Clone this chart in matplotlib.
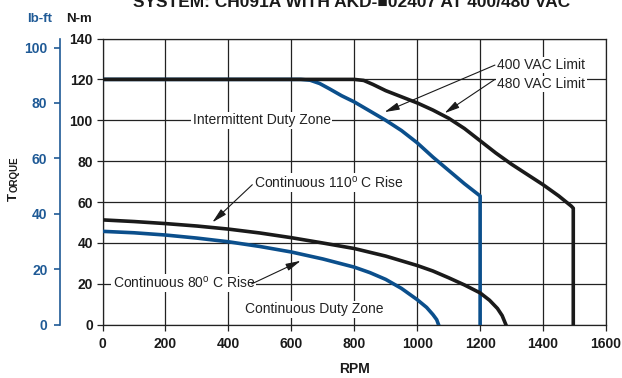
import matplotlib
matplotlib.use("Agg")
import matplotlib.pyplot as plt

FONT = ['Liberation Sans', 'DejaVu Sans']
plt.rcParams['font.family'] = FONT

BLUE = '#0b4f8c'
LBLUE = '#1f5a96'
BLACK = '#1a1a1a'

# ---- data (RPM, N-m) ----
lim400_rpm = [0, 630, 660, 690, 720, 760, 800, 850, 900, 950, 1000, 1050, 1100, 1150, 1200, 1200]
lim400_nm = [120, 120, 119.6, 118, 115.5, 112, 109, 104.5, 100, 95, 89, 82, 75.5, 69, 63, 0]

lim480_rpm = [0, 800, 830, 860, 900, 950, 1000, 1050, 1100, 1150, 1200, 1250, 1300, 1350,
              1400, 1450, 1490, 1496, 1496]
lim480_nm = [120, 120, 119.5, 117.5, 114.5, 111.5, 108.5, 105, 101, 96, 90, 84, 78.5, 73.5,
             68.5, 63, 58, 57, 0]

c110_rpm = [0, 100, 200, 300, 400, 500, 600, 700, 800, 900, 1000, 1050, 1100, 1150, 1200,
            1230, 1255, 1270, 1282]
c110_nm = [51.3, 50.5, 49.5, 48.3, 46.8, 44.9, 42.6, 40, 37.3, 33.6, 29, 26.3, 23, 19.5, 15.6,
           12, 8, 4.5, 0]

c80_rpm = [0, 100, 200, 300, 400, 500, 600, 700, 800, 850, 900, 950, 1000, 1030, 1050, 1062, 1068]
c80_nm = [45.7, 45, 43.9, 42.4, 40.6, 38.3, 35.6, 32.2, 28.2, 25.5, 22.2, 17.8, 12.3, 8.5, 5,
          2.5, 0]

x_ticks = [0, 200, 400, 600, 800, 1000, 1200, 1400, 1600]
nm_ticks = [0, 20, 40, 60, 80, 100, 120, 140]
lbft_ticks = [0, 20, 40, 60, 80, 100]
NM_PER_LBFT = 1.3558

W, H = 622, 378
AX_L, AX_R, AX_T, AX_B = 102.5, 606, 38.5, 324.8

fig = plt.figure(figsize=(6.22, 3.78), dpi=100)
ax = fig.add_axes([AX_L/W, 1 - AX_B/H, (AX_R - AX_L)/W, (AX_B - AX_T)/H])

ax.set_xlim(0, 1600)
ax.set_ylim(0, 140)
ax.set_xticks(x_ticks)
ax.set_yticks(nm_ticks)
ax.set_axisbelow(True)
ax.grid(True, color='#222222', lw=0.9)
for s in ax.spines.values():
    s.set_color('#222222')
    s.set_linewidth(0.9)
ax.tick_params(direction='out', length=4, width=0.9, color='#222222', pad=3,
               labelsize=10, labelcolor=BLACK)
ax.tick_params(axis='x', pad=5)
for lab in ax.get_xticklabels() + ax.get_yticklabels():
    lab.set_fontweight('bold')

lw = 2.6
ax.plot(lim400_rpm, lim400_nm, color=BLUE, lw=lw, solid_joinstyle='round', zorder=3)
ax.plot(lim480_rpm, lim480_nm, color=BLACK, lw=lw, solid_joinstyle='round', zorder=3)
ax.plot(c110_rpm, c110_nm, color=BLACK, lw=lw, solid_joinstyle='round', zorder=3)
ax.plot(c80_rpm, c80_nm, color=BLUE, lw=lw, solid_joinstyle='round', zorder=3)

# secondary lb-ft axis
sec = ax.secondary_yaxis(-(AX_L - 60)/(AX_R - AX_L),
                         functions=(lambda y: y / NM_PER_LBFT, lambda y: y * NM_PER_LBFT))
sec.set_yticks(lbft_ticks)
sec.spines['left'].set_color(LBLUE)
sec.spines['left'].set_linewidth(1.2)
sec.tick_params(direction='out', length=4, width=1.2, color=LBLUE, pad=5,
                labelsize=10, labelcolor=LBLUE)
for lab in sec.get_yticklabels():
    lab.set_fontweight('bold')

ax.set_xlabel('RPM', fontsize=10, fontweight='bold', color=BLACK, labelpad=8)

# annotations
tfs = 10
bb = dict(facecolor='white', edgecolor='none', pad=1.0)
ap = dict(arrowstyle='-|>,head_width=0.22,head_length=0.9', color=BLACK, lw=0.8,
          shrinkA=0, shrinkB=0)

ax.text(1255, 127, '400 VAC Limit', fontsize=tfs, ha='left', va='center',
        color='#222222', bbox=bb, zorder=4)
ax.text(1255, 117.7, '480 VAC Limit', fontsize=tfs, ha='left', va='center',
        color='#222222', bbox=bb, zorder=4)
ax.annotate('', xy=(896, 104), xytext=(1247, 127), arrowprops=ap, zorder=4)
ax.annotate('', xy=(1087, 103.5), xytext=(1247, 120), arrowprops=ap, zorder=4)

ax.text(506, 100, 'Intermittent Duty Zone', fontsize=tfs, ha='center', va='center',
        color='#222222', bbox=bb, zorder=4)
ax.text(481, 69.4, r'Continuous 110$^\mathregular{o}$ C Rise', fontsize=tfs,
        ha='left', va='center', color='#222222', bbox=bb, zorder=4)
ax.annotate('', xy=(349, 50.1), xytext=(476, 68.5), arrowprops=ap, zorder=4)
ax.text(32, 20.4, r'Continuous 80$^\mathregular{o}$ C Rise', fontsize=tfs,
        ha='left', va='center', color='#222222', bbox=bb, zorder=4)
ax.annotate('', xy=(630, 31.3), xytext=(474, 20.0), arrowprops=ap, zorder=4)
ax.text(672, 7.6, 'Continuous Duty Zone', fontsize=tfs, ha='center', va='center',
        color='#222222', bbox=bb, zorder=4)

# header texts
fig.text(40/W, 1 - 19/H, 'lb-ft', fontsize=9.5, fontweight='bold', color=LBLUE,
         ha='center', va='center')
fig.text(79/W, 1 - 19/H, 'N-m', fontsize=9.5, fontweight='bold', color=BLACK,
         ha='center', va='center')
fig.text(352/W, 1 - 7/H, 'SYSTEM: CH091A WITH AKD-\u25a002407 AT 400/480 VAC',
         fontsize=12.5, fontweight='bold', color=BLACK, ha='center', va='baseline',
         family=FONT)

# small caps TORQUE
fig.text(20/W, 1 - 201/H, 'T', fontsize=9.5, fontweight='bold', color=BLACK,
         rotation=90, ha='right', va='bottom')
fig.text(20/W, 1 - 192/H, 'ORQUE', fontsize=7, fontweight='bold', color=BLACK,
         rotation=90, ha='right', va='bottom')

fig.savefig('out.png', dpi=100)
